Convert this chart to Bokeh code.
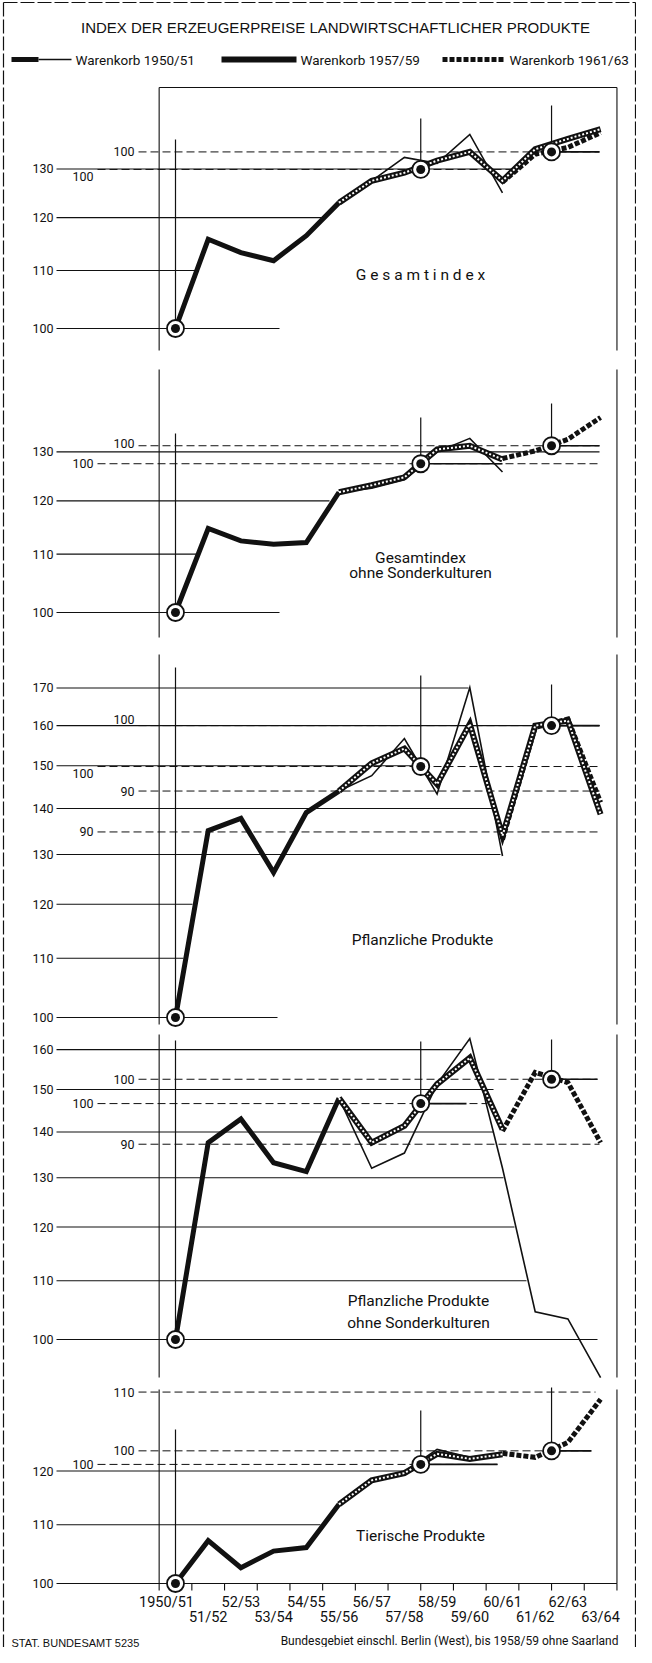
import math
from bokeh.plotting import figure
from bokeh.models import Range1d, LogScale
from bokeh.core.properties import value
from bokeh.embed import file_html
from bokeh.resources import INLINE

# ---------------- data (main scale 1950/51 = 100) ----------------
years = ["1950/51", "51/52", "52/53", "53/54", "54/55", "55/56", "56/57",
         "57/58", "58/59", "59/60", "60/61", "61/62", "62/63", "63/64"]
series_names = ["Warenkorb 1950/51", "Warenkorb 1957/59", "Warenkorb 1961/63"]
chart_title = "INDEX DER ERZEUGERPREISE LANDWIRTSCHAFTLICHER PRODUKTE"
source_note = "STAT. BUNDESAMT 5235"
area_note = "Bundesgebiet einschl. Berlin (West), bis 1958/59 ohne Saarland"

start_57 = 5    # first year drawn for Warenkorb 1957/59 (1955/56)
start_61 = 10   # first year drawn for Warenkorb 1961/63 (1960/61)

# Gesamtindex
ges_wk50 = [100.0, 115.8, 113.3, 111.8, 116.5, 123.0, 127.5, 132.5, 131.2, 137.6, 125.0]
ges_wk57 = [123.0, 127.5, 129.2, 131.8, 133.7, 127.5, 134.3, 136.6, 138.8]
ges_wk61 = [127.2, 133.2, 134.7, 138.0]
ges_base57, ges_base61 = 129.9, 133.7
ges_ticks = [100, 110, 120, 130]

# Gesamtindex ohne Sonderkulturen
ohne_wk50 = [100.0, 114.7, 112.4, 111.8, 112.1, 121.7, 122.5, 124.2, 130.0, 132.9, 125.8]
ohne_wk57 = [121.7, 123.1, 124.7, 130.5, 131.3, 128.4]
ohne_wk61 = [128.6, 130.2, 132.7, 137.5]
ohne_base57, ohne_base61 = 127.5, 131.3
ohne_ticks = [100, 110, 120, 130]

# Pflanzliche Produkte
pfl_wk50 = [100.0, 135.1, 137.8, 126.3, 139.1, 144.0, 147.6, 156.7, 143.3, 170.1, 129.7]
pfl_wk57 = [144.0, 150.6, 154.2, 145.6, 160.4, 134.0, 160.0, 161.3, 138.7]
pfl_wk61 = [133.2, 159.5, 161.7, 141.4]
pfl_base57, pfl_base61 = 149.8, 160.0
pfl_ticks = [100, 110, 120, 130, 140, 150, 160, 170]

# Pflanzliche Produkte ohne Sonderkulturen
pso_wk50 = [100.0, 137.6, 143.0, 133.2, 131.3, 147.9, 132.0, 135.3, 151.3, 162.9, 132.0, 104.6, 103.4, 94.0]
pso_wk57 = [147.9, 137.6, 141.4, 151.3, 157.9, 140.6]
pso_wk61 = [140.2, 154.2, 151.7, 137.6]
pso_base57, pso_base61 = 146.6, 152.5
pso_ticks = [100, 110, 120, 130, 140, 150, 160]

# Tierische Produkte
tie_wk50 = [100.0, 107.2, 102.6, 105.4, 106.0, 113.7, 118.4, 119.9, 124.3, 122.7, 123.5]
tie_wk57 = [113.7, 118.2, 119.6, 123.4, 122.4, 123.3]
tie_wk61 = [123.5, 122.7, 125.7, 134.8]
tie_base57, tie_base61 = 121.3, 124.0
tie_ticks = [100, 110, 120]

# secondary scale labels (value on the basket's own scale)
ges_sec57, ges_sec61 = [100], [100]
ohne_sec57, ohne_sec61 = [100], [100]
pfl_sec57, pfl_sec61 = [100, 90], [100, 90]
pso_sec57, pso_sec61 = [100], [100, 90]
tie_sec57, tie_sec61 = [100], [100, 110]

# ---------------- layout / style ----------------
INK = "#111111"
NARROW = "Roboto"
REG = "Liberation Sans"
W, H = 636, 1647
LEFT, RIGHT, TOP, BOT = 8, 644, 8, 1655
X0, DX = 183.0, 32.7           # page x of 1950/51 centre, width of one year
FRAME_L, FRAME_R = X0 - 0.5 * DX, X0 + 13.5 * DX
GRID_X0, LABEL_X = 64, 61
SEC61_LX, SEC61_X0 = 142, 146
SEC57_LX, SEC57_X0 = 101, 105

panels = [
    dict(key="ges", y100=336, k=1400, wk50=ges_wk50, wk57=ges_wk57, wk61=ges_wk61,
         b57=ges_base57, b61=ges_base61, ticks=ges_ticks, grid_end=[287, 204, 333, 520],
         sec57=ges_sec57, sec57_dy=[7], sec57_end=[520], sec61=ges_sec61, sec61_dy=[0], sec61_end=[607],
         solid57=None, solid61=607, vtops=(147, 126, 113), frame=(95, 358),
         title=["G e s a m t i n d e x"], title_x=428, title_y=[282]),
    dict(key="ohne", y100=620, k=1410, wk50=ohne_wk50, wk57=ohne_wk57, wk61=ohne_wk61,
         b57=ohne_base57, b61=ohne_base61, ticks=ohne_ticks, grid_end=[287, 205, 337, 607],
         sec57=ohne_sec57, sec57_dy=[0], sec57_end=[607], sec61=ohne_sec61, sec61_dy=[-2], sec61_end=[607],
         solid57=510, solid61=607, vtops=(441, 425, 411), frame=(377, 645),
         title=["Gesamtindex", "ohne Sonderkulturen"], title_x=428, title_y=[565, 580]),
    dict(key="pfl", y100=1025, k=1430, wk50=pfl_wk50, wk57=pfl_wk57, wk61=pfl_wk61,
         b57=pfl_base57, b61=pfl_base61, ticks=pfl_ticks,
         grid_end=[285, 191, 200, 508, 500, 425, 607, 476],
         sec57=pfl_sec57, sec57_dy=[7, 0], sec57_end=[607, 607], sec61=pfl_sec61, sec61_dy=[-6, 0],
         sec61_end=[607, 607], solid57=None, solid61=607, vtops=(675, 683, 692), frame=(662, 1032),
         title=["Pflanzliche Produkte"], title_x=430, title_y=[947]),
    dict(key="pso", y100=1347, k=1420, wk50=pso_wk50, wk57=pso_wk57, wk61=pso_wk61,
         b57=pso_base57, b61=pso_base61, ticks=pso_ticks,
         grid_end=[605, 534, 522, 511, 501, 501, 470],
         sec57=pso_sec57, sec57_dy=[0], sec57_end=[495], sec61=pso_sec61, sec61_dy=[0, 0],
         sec61_end=[605, 607], solid57=474, solid61=605, vtops=(1048, 1049, 1047), frame=(1042, 1385),
         title=["Pflanzliche Produkte", "ohne Sonderkulturen"], title_x=426, title_y=[1308, 1330]),
    dict(key="tie", y100=1591, k=1420, wk50=tie_wk50, wk57=tie_wk57, wk61=tie_wk61,
         b57=tie_base57, b61=tie_base61, ticks=tie_ticks, grid_end=[FRAME_R, 328, 420],
         sec57=tie_sec57, sec57_dy=[0], sec57_end=[505], sec61=tie_sec61, sec61_dy=[0, 0],
         sec61_end=[599, 603], solid57=505, solid61=599, vtops=(1437, 1418, 1395), frame=(1397, 1591),
         title=["Tierische Produkte"], title_x=428, title_y=[1543]),
]

p = figure(width=W, height=H, output_backend="svg", toolbar_location=None,
           x_range=Range1d((LEFT - X0) / DX, (RIGHT - X0) / DX),
           y_range=Range1d(BOT, TOP),
           x_axis_location=None, y_axis_location=None, min_border=0)
p.outline_line_color = None
p.grid.visible = False
p.background_fill_color = "white"
p.extra_x_ranges = {"page": Range1d(LEFT, RIGHT)}

yr, ys = {}, {}
for pn in panels:
    lo = 10 ** (2 - (BOT - pn["y100"]) / pn["k"])
    hi = 10 ** (2 + (pn["y100"] - TOP) / pn["k"])
    yr[pn["key"]] = Range1d(lo, hi)
    ys[pn["key"]] = LogScale()
p.extra_y_ranges = yr
p.extra_y_scales = ys


def txt(x, y, s, size, font=NARROW, align="left", xr="page", yrn="default", dy=0, dx=0, style="normal"):
    p.text(x=[x], y=[y], text=[s], text_font=value(font), text_font_size=f"{size}px",
           text_align=align, text_baseline="middle", x_range_name=xr, y_range_name=yrn,
           text_color=INK, y_offset=dy, x_offset=dx, text_font_style=style)


def page_line(xs, ys_, width=1.0, dash="solid"):
    p.line(xs, ys_, x_range_name="page", line_color=INK, line_width=width, line_dash=dash)


def val_at(pn, page_y):
    return 100.0 * 10 ** ((pn["y100"] - page_y) / pn["k"])


# outer border
page_line([11, 11], [10, BOT], 1.2, "14 3")
page_line([11, 643], [10, 10], 1.2, "14 3")
page_line([643, 643], [10, BOT], 1.2, "14 3")

# title and legend
txt(343, 35, chart_title, 15, font=REG, align="center")
LY = 67
page_line([19, 46], [LY, LY], 5)
page_line([46, 79], [LY, LY], 1.6)
txt(83, LY, series_names[0], 13.5)
page_line([229, 304], [LY, LY], 6)
page_line([231, 302], [LY, LY], 2, "2 2")
txt(308, LY, series_names[1], 13.5)
page_line([450, 512], [LY, LY], 5, "5 2")
txt(517, LY, series_names[2], 13.5)

# top of the frame
page_line([FRAME_L, FRAME_R], [95, 95], 1.1)

for pn in panels:
    key = pn["key"]
    f0, f1 = pn["frame"]
    page_line([FRAME_L, FRAME_L], [f0, f1], 1.1)
    page_line([FRAME_R, FRAME_R], [f0, f1], 1.1)

    # main scale grid + labels
    for tv, xe in zip(pn["ticks"], pn["grid_end"]):
        p.line([GRID_X0, xe], [tv, tv], x_range_name="page", y_range_name=key,
               line_color=INK, line_width=1.1)
        txt(LABEL_X, tv, str(tv), 12.5, yrn=key, align="right")

    # secondary scales (dashed)
    for tv, dy, xe in zip(pn["sec61"], pn["sec61_dy"], pn["sec61_end"]):
        yv = pn["b61"] * tv / 100.0
        p.line([SEC61_X0, xe], [yv, yv], x_range_name="page", y_range_name=key,
               line_color=INK, line_width=1.0, line_dash="8 4")
        txt(SEC61_LX, yv, str(tv), 12.5, align="right", yrn=key, dy=dy)
    for tv, dy, xe in zip(pn["sec57"], pn["sec57_dy"], pn["sec57_end"]):
        yv = pn["b57"] * tv / 100.0
        p.line([SEC57_X0, xe], [yv, yv], x_range_name="page", y_range_name=key,
               line_color=INK, line_width=1.0, line_dash="8 4")
        txt(SEC57_LX, yv, str(tv), 12.5, align="right", yrn=key, dy=dy)
    if pn["solid57"]:
        p.line([X0 + 7.5 * DX, pn["solid57"]], [pn["b57"], pn["b57"]], x_range_name="page",
               y_range_name=key, line_color=INK, line_width=1.6)
    if pn["solid61"]:
        p.line([X0 + 11.5 * DX, pn["solid61"]], [pn["b61"], pn["b61"]], x_range_name="page",
               y_range_name=key, line_color=INK, line_width=1.6)

    # vertical marker lines above the base circles
    for xi, base, top in zip([0, 7.5, 11.5], [100.0, pn["b57"], pn["b61"]], pn["vtops"]):
        p.line([xi, xi], [base, val_at(pn, top)], y_range_name=key, line_color=INK, line_width=1.2)

    # series
    w50 = pn["wk50"]
    x50 = list(range(len(w50)))
    p.line(x50[start_57:], w50[start_57:], y_range_name=key, line_color=INK,
           line_width=1.6, line_join="miter")
    p.line(x50[:start_57 + 1], w50[:start_57 + 1], y_range_name=key, line_color=INK,
           line_width=5, line_join="miter")
    x57 = list(range(start_57, start_57 + len(pn["wk57"])))
    x61 = list(range(start_61, start_61 + len(pn["wk61"])))
    p.line(x61, pn["wk61"], y_range_name=key, line_color=INK, line_width=5,
           line_dash="5 2", line_join="miter")
    p.line(x57, pn["wk57"], y_range_name=key, line_color=INK, line_width=6, line_join="miter")
    p.line(x57, pn["wk57"], y_range_name=key, line_color="white", line_width=2,
           line_dash="2 2", line_join="miter")

    # base circles
    bx, by = [0, 7.5, 11.5], [100.0, pn["b57"], pn["b61"]]
    p.scatter(bx, by, y_range_name=key, size=17, fill_color="white", line_color=INK, line_width=1.8)
    p.scatter(bx, by, y_range_name=key, size=9, fill_color=INK, line_color=None)

    # panel caption
    for line_text, ty in zip(pn["title"], pn["title_y"]):
        txt(pn["title_x"], ty, line_text, 15.5, align="center")

# bottom axis ticks and year labels
AXIS_Y = 1591
for i in range(len(years) + 1):
    xb = X0 + (i - 0.5) * DX
    page_line([xb, xb], [AXIS_Y, AXIS_Y + 7], 1.1)
for i, yl in enumerate(years):
    p.text(x=[i], y=[1610 if i % 2 == 0 else 1625], text=[yl], text_font=value(NARROW),
           text_font_size="14.5px", text_align="center", text_baseline="middle",
           text_color=INK, x_offset=-9 if i == 0 else 0)

# footer
txt(19, 1650, source_note, 11, font=REG)
txt(626, 1648, area_note, 12, align="right")

open("out.html", "w").write(file_html(p, INLINE))
